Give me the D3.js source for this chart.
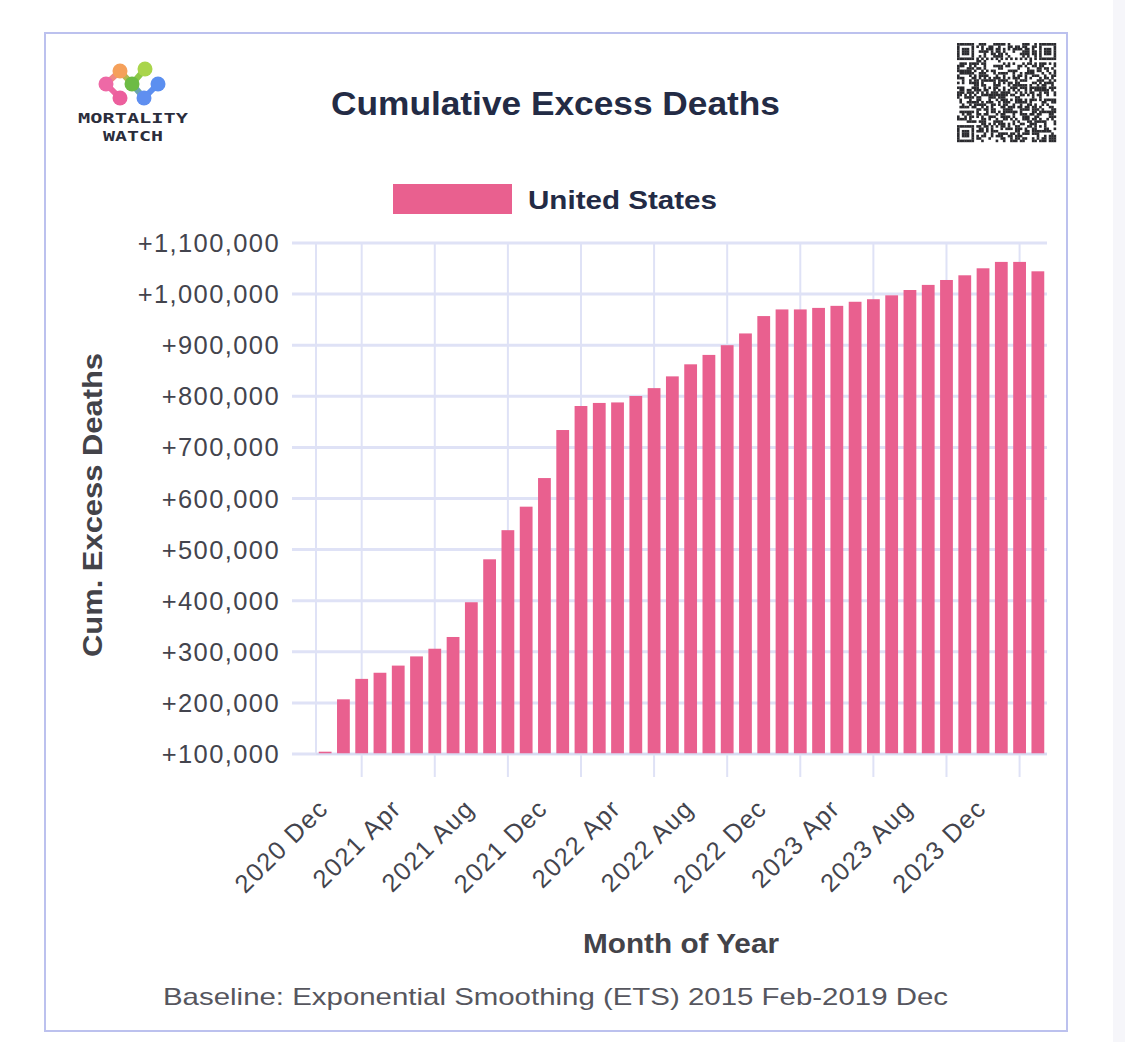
<!DOCTYPE html>
<html>
<head>
<meta charset="utf-8">
<script src="https://cdn.jsdelivr.net/npm/d3@7"></script>
<style>
  html, body { margin: 0; padding: 0; background: #ffffff; }
  svg { display: block; }
  svg { font-family: "Liberation Sans", Arial, Helvetica, sans-serif; }
</style>
</head>
<body>
<svg id="chart" width="1125" height="1042"></svg>
<script>
// ---------------- DATA ----------------
const months = [
  "2020 Oct","2020 Nov","2020 Dec",
  "2021 Jan","2021 Feb","2021 Mar","2021 Apr","2021 May","2021 Jun","2021 Jul","2021 Aug","2021 Sep","2021 Oct","2021 Nov","2021 Dec",
  "2022 Jan","2022 Feb","2022 Mar","2022 Apr","2022 May","2022 Jun","2022 Jul","2022 Aug","2022 Sep","2022 Oct","2022 Nov","2022 Dec",
  "2023 Jan","2023 Feb","2023 Mar","2023 Apr","2023 May","2023 Jun","2023 Jul","2023 Aug","2023 Sep","2023 Oct","2023 Nov","2023 Dec",
  "2024 Jan"
];
const cumExcessDeaths = [
  104500, 207000, 247000, 259000, 273000, 291000, 306000, 329000, 397000, 481000,
  538000, 584000, 640000, 734000, 781000, 787000, 788000, 800600, 816000, 839000,
  862600, 881000, 900000, 923000, 957000, 970000, 970000, 973000, 977000, 985000,
  990000, 997600, 1008000, 1018000, 1027600, 1036800, 1050500, 1063000, 1063000, 1044600
];
const xTickLabels = ["2020 Dec","2021 Apr","2021 Aug","2021 Dec","2022 Apr","2022 Aug","2022 Dec","2023 Apr","2023 Aug","2023 Dec"];
const yTickValues = [100000,200000,300000,400000,500000,600000,700000,800000,900000,1000000,1100000];
const seriesName = "United States";
const chartTitle = "Cumulative Excess Deaths";
const yTitle = "Cum. Excess Deaths";
const xTitle = "Month of Year";
const footnote = "Baseline: Exponential Smoothing (ETS) 2015 Feb-2019 Dec";

// ---------------- STYLE ----------------
const barColor = "#e9608f";
const gridColor = "#dfe2f6";
const plot = { left: 316, right: 1047, top: 243, bottom: 754 };

const svg = d3.select("#chart");

// right gray strip & card border
svg.append("rect").attr("x", 1113).attr("y", 0).attr("width", 12).attr("height", 1042).attr("fill", "#f6f6fa");
svg.append("rect").attr("x", 45).attr("y", 33).attr("width", 1022).attr("height", 998)
  .attr("fill", "#ffffff").attr("stroke", "#bcc1ee").attr("stroke-width", 2);

// helper: fit text to a target width
function fit(sel, w) { sel.attr("textLength", w).attr("lengthAdjust", "spacingAndGlyphs"); return sel; }

// ---------------- SCALES ----------------
const x = d3.scaleBand().domain(months).range([plot.left, plot.right]).paddingInner(0.3).paddingOuter(0.15);
const y = d3.scaleLinear().domain([100000, 1100000]).range([plot.bottom, plot.top]);

// ---------------- GRID ----------------
const g = svg.append("g");
g.selectAll("line.hgrid").data(yTickValues).join("line")
  .attr("x1", plot.left - 24).attr("x2", plot.right)
  .attr("y1", d => y(d)).attr("y2", d => y(d))
  .attr("stroke", gridColor).attr("stroke-width", 3);
g.append("line").attr("x1", plot.left).attr("x2", plot.left)
  .attr("y1", plot.top).attr("y2", plot.bottom).attr("stroke", gridColor).attr("stroke-width", 2);
g.selectAll("line.vgrid").data(xTickLabels).join("line")
  .attr("x1", d => x(d) + x.bandwidth() / 2).attr("x2", d => x(d) + x.bandwidth() / 2)
  .attr("y1", plot.top).attr("y2", plot.bottom + 23)
  .attr("stroke", gridColor).attr("stroke-width", 2);

// ---------------- BARS ----------------
svg.append("g").selectAll("rect").data(months).join("rect")
  .attr("x", d => x(d))
  .attr("width", x.bandwidth())
  .attr("y", (d, i) => y(Math.max(100000, cumExcessDeaths[i])))
  .attr("height", (d, i) => plot.bottom - y(Math.max(100000, cumExcessDeaths[i])))
  .attr("fill", barColor);

svg.append("line").attr("x1", plot.left).attr("x2", plot.right)
  .attr("y1", plot.bottom).attr("y2", plot.bottom).attr("stroke", "#d6daf0").attr("stroke-width", 1.5);

// ---------------- AXIS LABELS ----------------
const fmt = d3.format(",");
svg.append("g").selectAll("text").data(yTickValues).join("text")
  .attr("x", 280).attr("y", d => y(d))
  .attr("text-anchor", "end").attr("dominant-baseline", "central")
  .attr("font-size", 25.5).attr("letter-spacing", 1.4).attr("fill", "#43444d")
  .text(d => "+" + fmt(d));

svg.append("g").selectAll("text").data(xTickLabels).join("text")
  .attr("transform", d => `translate(${x(d) + x.bandwidth() / 2 - 32},${810}) rotate(-45)`)
  .attr("text-anchor", "end")
  .attr("font-size", 25.5).attr("letter-spacing", 1.3).attr("fill", "#43444d")
  .text(d => d);

fit(svg.append("text")
  .attr("transform", "translate(93,505) rotate(-90)")
  .attr("text-anchor", "middle").attr("dominant-baseline", "central")
  .attr("font-size", 27).attr("font-weight", "bold").attr("fill", "#434349")
  .text(yTitle), 304);

fit(svg.append("text")
  .attr("x", 583).attr("y", 944)
  .attr("dominant-baseline", "central")
  .attr("font-size", 27).attr("font-weight", "bold").attr("fill", "#434349")
  .text(xTitle), 196);

fit(svg.append("text")
  .attr("x", 163).attr("y", 996)
  .attr("dominant-baseline", "central")
  .attr("font-size", 24).attr("fill", "#56565e")
  .text(footnote), 785);

fit(svg.append("text")
  .attr("x", 331).attr("y", 103)
  .attr("dominant-baseline", "central")
  .attr("font-size", 33).attr("font-weight", "bold").attr("fill", "#232b45")
  .text(chartTitle), 449);

svg.append("rect").attr("x", 393).attr("y", 184).attr("width", 119).attr("height", 30).attr("fill", barColor);
fit(svg.append("text")
  .attr("x", 528).attr("y", 200)
  .attr("dominant-baseline", "central")
  .attr("font-size", 26.5).attr("font-weight", "bold").attr("fill", "#232b45")
  .text(seriesName), 189);

// ---------------- LOGO ----------------
const logo = svg.append("g");
const nodes = {
  orange: [120, 71, "#f5a05a"], lime: [145, 69, "#a9d54b"], pink: [106, 84, "#ee69a6"],
  pinkB: [120, 98, "#ec5f9d"], green: [132, 84, "#6dbb45"], blueB: [144, 98, "#5f8ff0"], blueR: [158, 84, "#5b8ff0"]
};
const links = [["orange","pink","#f08a85"],["pink","pinkB","#ee65a1"],["orange","green","#b5b750"],["green","lime","#8cc948"],["green","blueB","#6aa4b0"],["blueB","blueR","#5d8ff0"]];
links.forEach(([a, b, c]) => logo.append("line")
  .attr("x1", nodes[a][0]).attr("y1", nodes[a][1]).attr("x2", nodes[b][0]).attr("y2", nodes[b][1])
  .attr("stroke", c).attr("stroke-width", 6).attr("stroke-linecap", "round"));
Object.values(nodes).forEach(([cx, cy, c]) => logo.append("circle").attr("cx", cx).attr("cy", cy).attr("r", 7.5).attr("fill", c));
fit(logo.append("text").attr("x", 78).attr("y", 117.5).attr("dominant-baseline", "central")
  .style("font-family", "'DejaVu Sans Mono', monospace").attr("font-weight", "bold").attr("font-size", 14.5).attr("fill", "#2b2d3c")
  .text("MORTALITY"), 110);
fit(logo.append("text").attr("x", 103).attr("y", 136).attr("dominant-baseline", "central")
  .style("font-family", "'DejaVu Sans Mono', monospace").attr("font-weight", "bold").attr("font-size", 14.5).attr("fill", "#2b2d3c")
  .text("WATCH"), 60);

// ---------------- QR CODE (decorative) ----------------
const qr = svg.append("g").attr("transform", "translate(957,43)");
const N = 41, cell = 99 / N;
function finder(r, c) { return (r >= 0 && r < 7 && c >= 0 && c < 7) ? ((r === 0 || r === 6 || c === 0 || c === 6) || (r >= 2 && r <= 4 && c >= 2 && c <= 4)) : null; }
const mods = [];
for (let r = 0; r < N; r++) for (let c = 0; c < N; c++) {
  let v = null;
  const f1 = finder(r, c), f2 = finder(r, c - (N - 7)), f3 = finder(r - (N - 7), c);
  if (f1 !== null) v = f1; else if (f2 !== null) v = f2; else if (f3 !== null) v = f3;
  else if ((r === 7 && (c < 8 || c >= N - 8)) || (c === 7 && (r < 8 || r >= N - 8)) || (r === N - 8 && c < 8) || (c === N - 8 && r < 8)) v = false;
  else if (r >= N - 9 && r <= N - 5 && c >= N - 9 && c <= N - 5) { const d = Math.max(Math.abs(r - (N - 7)), Math.abs(c - (N - 7))); v = d !== 1; }
  else if (r === 6) v = c % 2 === 0; else if (c === 6) v = r % 2 === 0;
  else { const h = Math.sin(r * 12.9898 + c * 78.233) * 43758.5453; v = (h - Math.floor(h)) > 0.5; }
  if (v) mods.push([r, c]);
}
qr.selectAll("rect").data(mods).join("rect")
  .attr("x", d => d[1] * cell).attr("y", d => d[0] * cell)
  .attr("width", cell + 0.2).attr("height", cell + 0.2).attr("fill", "#2a2a2e");
</script>
</body>
</html>
